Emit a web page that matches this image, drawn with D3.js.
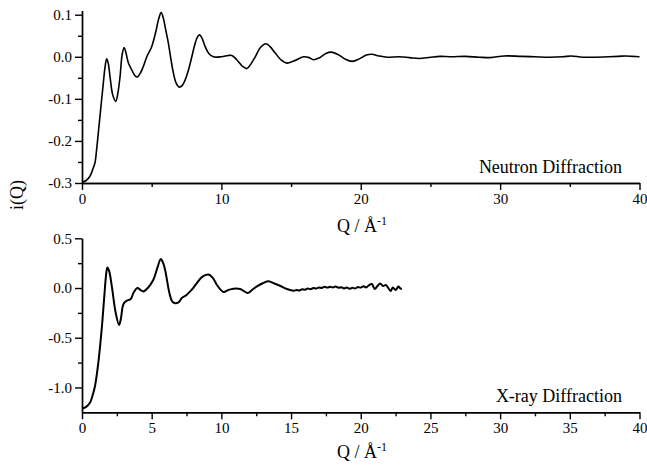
<!DOCTYPE html>
<html>
<head>
<meta charset="utf-8">
<script src="https://cdn.jsdelivr.net/npm/d3@7"></script>
<style>
  body { margin: 0; background: #fff; }
  svg { display: block; }
  text { font-family: "Liberation Serif", "Times New Roman", serif; fill: #000; }
</style>
</head>
<body>
<svg id="chart" width="647" height="468"></svg>
<script>
// neutron diffraction i(Q)
const neutronQ = [0, 0.3, 0.57, 0.8, 0.93, 1.05, 1.17, 1.36, 1.53, 1.65, 1.77, 1.88, 2.01, 2.2, 2.42, 2.58, 2.73, 2.88, 3.02, 3.15,
  3.33, 3.57, 3.8, 3.97, 4.2, 4.4, 4.65, 5.0, 5.3, 5.5, 5.68, 5.85, 6.0, 6.2, 6.4, 6.56, 6.75, 6.97, 7.2, 7.4,
  7.65, 7.88, 8.1, 8.3, 8.43, 8.6, 8.84, 9.1, 9.43, 10.0, 10.5, 10.75, 11.1, 11.5, 11.83, 12.1, 12.43, 12.8, 13.2, 13.5,
  13.86, 14.3, 14.7, 15.2, 15.9, 16.3, 16.6, 17.0, 17.5, 17.9, 18.4, 18.9, 19.4, 19.9, 20.4, 20.8, 21.3, 21.9, 22.8, 23.5,
  24.2, 25.0, 25.7, 26.5, 27.5, 28.5, 29.3, 30.3, 31.5, 32.5, 33.5, 34.5, 35.1, 35.9, 36.8, 37.8, 38.5, 39.0, 39.5, 40.0];
const neutronI = [-0.298, -0.294, -0.284, -0.265, -0.252, -0.22, -0.181, -0.118, -0.0625, -0.025, -0.005, -0.015, -0.047, -0.09, -0.106, -0.085, -0.047, 0.005, 0.022, 0.01,
  -0.015, -0.031, -0.045, -0.048, -0.038, -0.023, 0.0, 0.024, 0.06, 0.09, 0.105, 0.09, 0.065, 0.032, -0.01, -0.039, -0.062, -0.072, -0.068, -0.055,
  -0.03, 0.0, 0.03, 0.048, 0.052, 0.045, 0.024, 0.008, 0.0, 0.0, 0.003, 0.003, -0.007, -0.022, -0.028, -0.018, 0.0, 0.022, 0.031, 0.024,
  0.009, -0.008, -0.015, -0.01, 0.0, -0.002, -0.007, -0.003, 0.008, 0.011, 0.005, -0.006, -0.011, -0.005, 0.004, 0.006, 0.002, -0.001, 0.0, -0.002,
  -0.004, -0.001, 0.001, 0.0, 0.001, -0.001, -0.002, 0.002, 0.001, 0.0, -0.001, 0.0, 0.002, -0.001, -0.001, 0.0, 0.001, 0.002, 0.001, 0.0];

// x-ray diffraction i(Q)
const xrayQ = [0, 0.3, 0.57, 0.8, 0.93, 1.17, 1.41, 1.6, 1.72, 1.82, 1.95, 2.14, 2.42, 2.66, 2.8, 2.92, 3.05, 3.21, 3.5, 3.69,
  3.97, 4.2, 4.4, 4.72, 5.12, 5.4, 5.65, 5.8, 5.96, 6.27, 6.45, 6.63, 6.92, 7.16, 7.5, 7.76, 8.0, 8.24, 8.6, 9.07,
  9.4, 9.67, 10.15, 10.5, 10.87, 11.35, 11.88, 12.2, 12.55, 13.0, 13.38, 13.8, 14.2, 14.7, 15.18, 15.4, 15.6, 15.8, 16.0, 16.2,
  16.4, 16.6, 16.8, 17.0, 17.2, 17.4, 17.6, 17.8, 18.0, 18.2, 18.4, 18.6, 18.8, 19.0, 19.2, 19.4, 19.6, 19.8, 20.0, 20.2,
  20.4, 20.6, 20.8, 21.0, 21.2, 21.4, 21.6, 21.8, 22.0, 22.15, 22.3, 22.5, 22.7, 22.85, 22.95];
const xrayI = [-1.212, -1.195, -1.155, -1.06, -0.988, -0.753, -0.419, -0.084, 0.12, 0.207, 0.17, 0.016, -0.251, -0.372, -0.3, -0.185, -0.145, -0.128, -0.11, -0.05,
  0.0, -0.02, -0.034, 0.0, 0.083, 0.2, 0.291, 0.26, 0.184, -0.05, -0.13, -0.151, -0.145, -0.1, -0.07, -0.034, 0.005, 0.05, 0.11, 0.135,
  0.1, 0.033, -0.04, -0.02, -0.007, -0.01, -0.05, -0.02, 0.016, 0.05, 0.067, 0.045, 0.023, -0.01, -0.027, -0.02, -0.025, -0.012, -0.018, -0.006,
  -0.012, 0.0, -0.006, 0.006, 0.0, 0.012, 0.004, 0.012, 0.006, 0.014, 0.002, 0.008, -0.004, 0.004, -0.008, 0.002, -0.004, 0.01, 0.004, 0.018,
  0.006, 0.03, 0.04, -0.01, 0.02, 0.045, 0.02, 0.03, -0.005, -0.03, 0.005, -0.02, 0.015, -0.005, -0.007];

const topXTicks = [0, 10, 20, 30, 40];
const topXMinor = [5, 15, 25, 35];
const topYTicks = [-0.3, -0.2, -0.1, 0.0, 0.1];
const topYMinor = [-0.25, -0.15, -0.05, 0.05];
const botXTicks = [0, 5, 10, 15, 20, 25, 30, 35, 40];
const botXMinor = [2.5, 7.5, 12.5, 17.5, 22.5, 27.5, 32.5, 37.5];
const botYTicks = [-1.0, -0.5, 0.0, 0.5];
const botYMinor = [-0.75, -0.25, 0.25];

const serif = '"Liberation Serif", "Times New Roman", serif';
const svg = d3.select("#chart");
const fmt1 = v => d3.format(".1f")(v).replace("−", "-");

function panel(cfg) {
  const x = d3.scaleLinear().domain([0, 40]).range([82, 639.5]);
  const y = d3.scaleLinear().domain(cfg.ydom).range(cfg.yrange);
  const g = svg.append("g");

  const line = d3.line()
    .x((d, i) => x(cfg.q[i]))
    .y((d, i) => y(cfg.v[i]))
    .curve(d3.curveCatmullRom.alpha(0.5));
  g.append("path")
    .datum(cfg.q)
    .attr("d", line)
    .attr("fill", "none")
    .attr("stroke", "#000")
    .attr("stroke-width", cfg.lw)
    .attr("stroke-linejoin", "round");

  const y0 = cfg.yrange[0];
  // minor ticks first, major on top
  const axes = [
    g.append("g").attr("transform", `translate(0,${y0})`)
      .call(d3.axisBottom(x).tickValues(cfg.xminor).tickSize(4).tickSizeOuter(0).tickFormat("")),
    g.append("g").attr("transform", `translate(0,${y0})`)
      .call(d3.axisBottom(x).tickValues(cfg.xticks).tickSize(7).tickSizeOuter(0).tickPadding(3).tickFormat(d3.format("d"))),
    g.append("g").attr("transform", "translate(82,0)")
      .call(d3.axisLeft(y).tickValues(cfg.yminor).tickSize(4).tickSizeOuter(0).tickFormat("")),
    g.append("g").attr("transform", "translate(82,0)")
      .call(d3.axisLeft(y).tickValues(cfg.yticks).tickSize(7).tickSizeOuter(0).tickPadding(3).tickFormat(fmt1))
  ];
  axes.forEach(a => a.attr("font-family", serif).attr("font-size", 15));

  g.selectAll(".domain, .tick line").attr("stroke", "#000").attr("stroke-width", 1.4);
  g.selectAll(".tick text").attr("fill", "#000");

  g.append("text")
    .attr("x", 622).attr("y", cfg.labelY)
    .attr("text-anchor", "end")
    .style("font-size", "18px")
    .text(cfg.label);

  const xl = g.append("text")
    .attr("x", 362).attr("y", cfg.xlabY)
    .attr("text-anchor", "middle")
    .style("font-size", "18px");
  xl.append("tspan").text("Q / Å");
  xl.append("tspan").attr("dy", -7).style("font-size", "12px").text("-1");
}

panel({
  q: neutronQ, v: neutronI, lw: 1.6,
  ydom: [-0.3, 0.11], yrange: [183, 10.5],
  xticks: topXTicks, xminor: topXMinor, yticks: topYTicks, yminor: topYMinor,
  label: "Neutron Diffraction", labelY: 173, xlabY: 232
});

panel({
  q: xrayQ, v: xrayI, lw: 2.0,
  ydom: [-1.25, 0.5], yrange: [412.3, 238.3],
  xticks: botXTicks, xminor: botXMinor, yticks: botYTicks, yminor: botYMinor,
  label: "X-ray Diffraction", labelY: 402, xlabY: 458
});

svg.append("text")
  .attr("transform", "translate(23,195) rotate(-90)")
  .attr("text-anchor", "middle")
  .style("font-size", "18px")
  .text("i(Q)");
</script>
</body>
</html>
